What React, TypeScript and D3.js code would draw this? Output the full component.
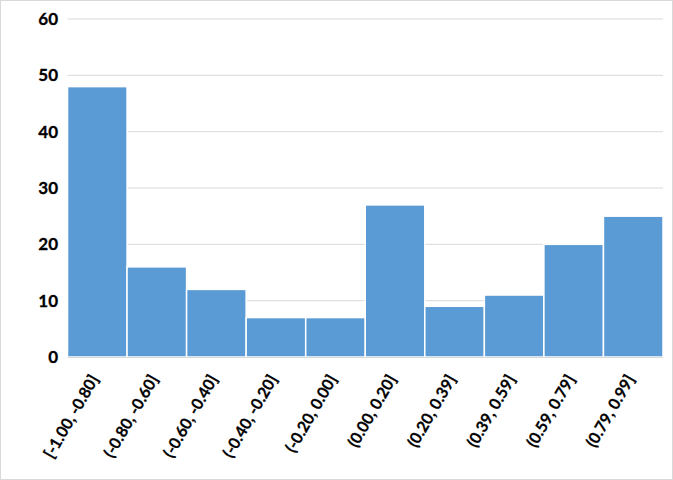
import React from "react";
import * as d3 from "d3";

const categories = [
  "[-1.00, -0.80]",
  "(-0.80, -0.60]",
  "(-0.60, -0.40]",
  "(-0.40, -0.20]",
  "(-0.20, 0.00]",
  "(0.00, 0.20]",
  "(0.20, 0.39]",
  "(0.39, 0.59]",
  "(0.59, 0.79]",
  "(0.79, 0.99]",
];
const counts = [48, 16, 12, 7, 7, 27, 9, 11, 20, 25];
const yTicks = [0, 10, 20, 30, 40, 50, 60];

const W = 673;
const H = 480;
const left = 67.5;
const right = 663;
const top = 19;
const bottom = 357;

export default function App() {
  const x = d3.scaleBand<string>().domain(categories).range([left, right]).padding(0);
  const y = d3.scaleLinear().domain([0, 60]).range([bottom, top]);
  const font = "Lato, 'Liberation Sans', Arial, sans-serif";
  return (
    <svg
      width={W}
      height={H}
      style={{ position: "absolute", left: 0, top: 0, background: "#fff" }}
    >
      <rect x={0.5} y={0.5} width={W - 1} height={H - 1} fill="#fff" stroke="#d9d9d9" />
      {yTicks.map((t) => (
        <g key={t}>
          {t > 0 && (
            <line x1={left} x2={right} y1={y(t)} y2={y(t)} stroke="#d9d9d9" strokeWidth={1} />
          )}
          <text
            x={58}
            y={y(t)}
            dy="0.36em"
            textAnchor="end"
            fontFamily={font}
            fontWeight="bold"
            fontSize={17}
            fill="#000"
            stroke="#000"
            strokeWidth={0.3}
          >
            {t}
          </text>
        </g>
      ))}
      {categories.map((c, i) => (
        <rect
          key={c}
          x={x(c)!}
          y={y(counts[i])}
          width={x.bandwidth()}
          height={y(0) - y(counts[i])}
          fill="#5b9bd5"
          stroke="#fff"
          strokeWidth={1.5}
        />
      ))}
      <line x1={left} x2={right} y1={bottom + 0.5} y2={bottom + 0.5} stroke="#d9d9d9" strokeWidth={1} />
      {categories.map((c) => {
        const cx = x(c)! + x.bandwidth() / 2 + 2;
        const cy = 379;
        return (
          <text
            key={c}
            x={cx}
            y={cy}
            textAnchor="end"
            transform={`rotate(-60, ${cx}, ${cy})`}
            fontFamily={font}
            fontWeight="bold"
            fontSize={16}
            fill="#000"
            stroke="#000"
            strokeWidth={0.25}
          >
            {c}
          </text>
        );
      })}
    </svg>
  );
}
